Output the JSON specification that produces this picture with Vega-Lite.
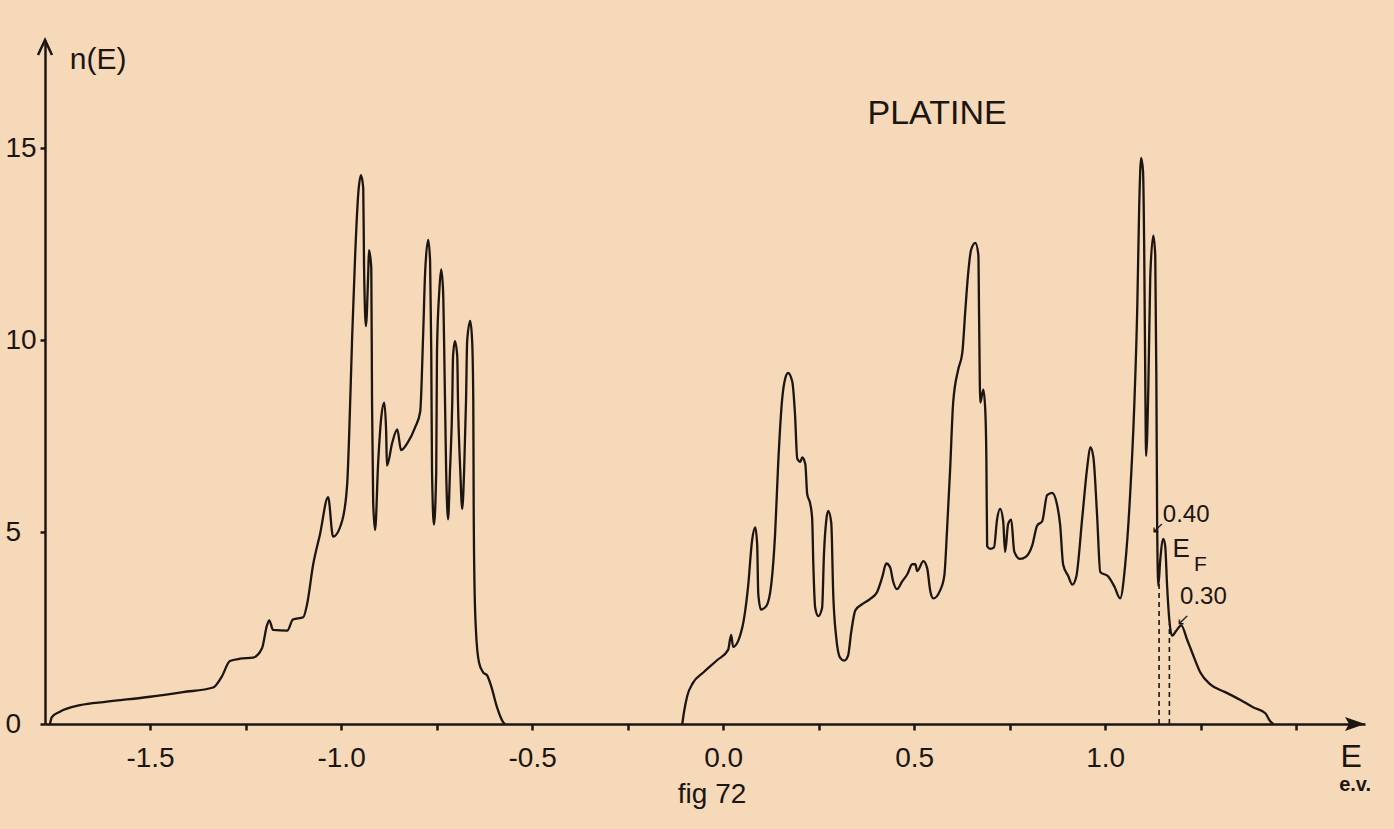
{
  "$schema": "https://vega.github.io/schema/vega-lite/v6.json",
  "width": 1320,
  "height": 684,
  "autosize": {"type": "none"},
  "padding": {"left": 45, "top": 40, "right": 29, "bottom": 105},
  "background": "#f5d9b9",
  "config": {
    "view": {"stroke": null},
    "font": "Liberation Sans",
    "axis": {
      "domainColor": "#1c1510", "domainWidth": 2.5,
      "tickColor": "#1c1510", "tickWidth": 2.5,
      "labelColor": "#1c1510", "labelFont": "Liberation Sans", "labelFontSize": 28,
      "grid": false, "title": null
    }
  },
  "datasets": {
    "dos": [
      {"E": -1.762, "n": 0, "b": "L"}, {"E": -1.757, "n": 0.18, "b": "L"}, {"E": -1.736, "n": 0.32, "b": "L"},
      {"E": -1.683, "n": 0.49, "b": "L"}, {"E": -1.613, "n": 0.58, "b": "L"}, {"E": -1.5, "n": 0.71, "b": "L"},
      {"E": -1.414, "n": 0.83, "b": "L"}, {"E": -1.335, "n": 0.95, "b": "L"}, {"E": -1.312, "n": 1.24, "b": "L"},
      {"E": -1.291, "n": 1.64, "b": "L"}, {"E": -1.264, "n": 1.7, "b": "L"}, {"E": -1.23, "n": 1.73, "b": "L"},
      {"E": -1.207, "n": 1.97, "b": "L"}, {"E": -1.194, "n": 2.57, "b": "L"}, {"E": -1.188, "n": 2.7, "b": "L"},
      {"E": -1.178, "n": 2.45, "b": "L"}, {"E": -1.141, "n": 2.43, "b": "L"}, {"E": -1.126, "n": 2.72, "b": "L"},
      {"E": -1.099, "n": 2.78, "b": "L"}, {"E": -1.089, "n": 3.12, "b": "L"}, {"E": -1.073, "n": 4.16, "b": "L"},
      {"E": -1.055, "n": 4.95, "b": "L"}, {"E": -1.034, "n": 5.91, "b": "L"}, {"E": -1.021, "n": 4.88, "b": "L"},
      {"E": -0.997, "n": 5.3, "b": "L"}, {"E": -0.984, "n": 6.26, "b": "L"}, {"E": -0.979, "n": 7.49, "b": "L"},
      {"E": -0.971, "n": 10.1, "b": "L"}, {"E": -0.963, "n": 12.26, "b": "L"}, {"E": -0.955, "n": 13.82, "b": "L"},
      {"E": -0.948, "n": 14.29, "b": "L"}, {"E": -0.942, "n": 13.95, "b": "L"}, {"E": -0.94, "n": 12.0, "b": "L"},
      {"E": -0.935, "n": 10.36, "b": "L"}, {"E": -0.929, "n": 11.74, "b": "L"}, {"E": -0.927, "n": 12.34, "b": "L"},
      {"E": -0.921, "n": 11.88, "b": "L"}, {"E": -0.919, "n": 8.36, "b": "L"}, {"E": -0.916, "n": 5.76, "b": "L"},
      {"E": -0.911, "n": 5.05, "b": "L"}, {"E": -0.903, "n": 6.8, "b": "L"}, {"E": -0.895, "n": 7.97, "b": "L"},
      {"E": -0.887, "n": 8.37, "b": "L"}, {"E": -0.882, "n": 7.59, "b": "L"}, {"E": -0.88, "n": 6.73, "b": "L"},
      {"E": -0.866, "n": 7.33, "b": "L"}, {"E": -0.853, "n": 7.67, "b": "L"}, {"E": -0.843, "n": 7.13, "b": "L"},
      {"E": -0.825, "n": 7.34, "b": "L"}, {"E": -0.806, "n": 7.73, "b": "L"}, {"E": -0.793, "n": 8.13, "b": "L"},
      {"E": -0.785, "n": 10.21, "b": "L"}, {"E": -0.78, "n": 11.77, "b": "L"}, {"E": -0.772, "n": 12.61, "b": "L"},
      {"E": -0.767, "n": 12.04, "b": "L"}, {"E": -0.764, "n": 9.7, "b": "L"}, {"E": -0.762, "n": 6.58, "b": "L"},
      {"E": -0.757, "n": 5.19, "b": "L"}, {"E": -0.751, "n": 6.57, "b": "L"}, {"E": -0.749, "n": 9.7, "b": "L"},
      {"E": -0.743, "n": 11.27, "b": "L"}, {"E": -0.738, "n": 11.84, "b": "L"}, {"E": -0.733, "n": 11.27, "b": "L"},
      {"E": -0.73, "n": 9.7, "b": "L"}, {"E": -0.725, "n": 6.58, "b": "L"}, {"E": -0.72, "n": 5.33, "b": "L"},
      {"E": -0.715, "n": 6.58, "b": "L"}, {"E": -0.709, "n": 8.4, "b": "L"}, {"E": -0.707, "n": 9.57, "b": "L"},
      {"E": -0.702, "n": 9.97, "b": "L"}, {"E": -0.696, "n": 9.58, "b": "L"}, {"E": -0.694, "n": 8.41, "b": "L"},
      {"E": -0.688, "n": 6.59, "b": "L"}, {"E": -0.683, "n": 5.6, "b": "L"}, {"E": -0.678, "n": 6.59, "b": "L"},
      {"E": -0.673, "n": 8.42, "b": "L"}, {"E": -0.67, "n": 9.98, "b": "L"}, {"E": -0.662, "n": 10.5, "b": "L"},
      {"E": -0.657, "n": 9.98, "b": "L"}, {"E": -0.654, "n": 8.42, "b": "L"}, {"E": -0.653, "n": 5.81, "b": "L"},
      {"E": -0.651, "n": 3.73, "b": "L"}, {"E": -0.647, "n": 2.43, "b": "L"}, {"E": -0.639, "n": 1.6, "b": "L"},
      {"E": -0.628, "n": 1.34, "b": "L"}, {"E": -0.618, "n": 1.27, "b": "L"}, {"E": -0.607, "n": 0.98, "b": "L"},
      {"E": -0.592, "n": 0.44, "b": "L"}, {"E": -0.576, "n": 0.05, "b": "L"}, {"E": -0.571, "n": 0, "b": "L"},

      {"E": -0.107, "n": 0, "b": "R"}, {"E": -0.102, "n": 0.34, "b": "R"}, {"E": -0.094, "n": 0.73, "b": "R"},
      {"E": -0.079, "n": 1.07, "b": "R"}, {"E": -0.052, "n": 1.34, "b": "R"}, {"E": -0.016, "n": 1.66, "b": "R"},
      {"E": 0.013, "n": 1.93, "b": "R"}, {"E": 0.021, "n": 2.32, "b": "R"}, {"E": 0.026, "n": 2.01, "b": "R"},
      {"E": 0.05, "n": 2.51, "b": "R"}, {"E": 0.065, "n": 3.55, "b": "R"}, {"E": 0.076, "n": 4.8, "b": "R"},
      {"E": 0.084, "n": 5.12, "b": "R"}, {"E": 0.089, "n": 4.68, "b": "R"}, {"E": 0.092, "n": 3.38, "b": "R"},
      {"E": 0.099, "n": 2.98, "b": "R"}, {"E": 0.113, "n": 3.07, "b": "R"}, {"E": 0.126, "n": 3.64, "b": "R"},
      {"E": 0.136, "n": 4.95, "b": "R"}, {"E": 0.144, "n": 6.77, "b": "R"}, {"E": 0.154, "n": 8.41, "b": "R"},
      {"E": 0.162, "n": 8.98, "b": "R"}, {"E": 0.17, "n": 9.14, "b": "R"}, {"E": 0.181, "n": 8.91, "b": "R"},
      {"E": 0.188, "n": 8.08, "b": "R"}, {"E": 0.194, "n": 6.91, "b": "R"}, {"E": 0.202, "n": 6.83, "b": "R"},
      {"E": 0.207, "n": 6.94, "b": "R"}, {"E": 0.215, "n": 6.77, "b": "R"}, {"E": 0.22, "n": 5.99, "b": "R"},
      {"E": 0.228, "n": 5.73, "b": "R"}, {"E": 0.233, "n": 5.35, "b": "R"}, {"E": 0.236, "n": 4.17, "b": "R"},
      {"E": 0.241, "n": 3.02, "b": "R"}, {"E": 0.249, "n": 2.81, "b": "R"}, {"E": 0.259, "n": 3.02, "b": "R"},
      {"E": 0.264, "n": 4.45, "b": "R"}, {"E": 0.27, "n": 5.31, "b": "R"}, {"E": 0.275, "n": 5.55, "b": "R"},
      {"E": 0.283, "n": 5.24, "b": "R"}, {"E": 0.288, "n": 3.42, "b": "R"}, {"E": 0.296, "n": 2.25, "b": "R"},
      {"E": 0.306, "n": 1.73, "b": "R"}, {"E": 0.317, "n": 1.65, "b": "R"}, {"E": 0.327, "n": 1.78, "b": "R"},
      {"E": 0.335, "n": 2.38, "b": "R"}, {"E": 0.346, "n": 2.96, "b": "R"}, {"E": 0.364, "n": 3.12, "b": "R"},
      {"E": 0.385, "n": 3.26, "b": "R"}, {"E": 0.403, "n": 3.44, "b": "R"}, {"E": 0.416, "n": 3.81, "b": "R"},
      {"E": 0.427, "n": 4.18, "b": "R"}, {"E": 0.437, "n": 4.08, "b": "R"}, {"E": 0.445, "n": 3.71, "b": "R"},
      {"E": 0.455, "n": 3.51, "b": "R"}, {"E": 0.469, "n": 3.72, "b": "R"}, {"E": 0.482, "n": 3.9, "b": "R"},
      {"E": 0.495, "n": 4.16, "b": "R"}, {"E": 0.503, "n": 4.16, "b": "R"}, {"E": 0.508, "n": 3.98, "b": "R"},
      {"E": 0.524, "n": 4.24, "b": "R"}, {"E": 0.534, "n": 4.06, "b": "R"}, {"E": 0.542, "n": 3.47, "b": "R"},
      {"E": 0.55, "n": 3.27, "b": "R"}, {"E": 0.568, "n": 3.48, "b": "R"}, {"E": 0.579, "n": 3.87, "b": "R"},
      {"E": 0.586, "n": 5.05, "b": "R"}, {"E": 0.594, "n": 6.61, "b": "R"}, {"E": 0.602, "n": 8.36, "b": "R"},
      {"E": 0.615, "n": 9.22, "b": "R"}, {"E": 0.626, "n": 9.67, "b": "R"}, {"E": 0.634, "n": 10.79, "b": "R"},
      {"E": 0.641, "n": 11.7, "b": "R"}, {"E": 0.649, "n": 12.35, "b": "R"}, {"E": 0.66, "n": 12.53, "b": "R"},
      {"E": 0.668, "n": 12.22, "b": "R"}, {"E": 0.67, "n": 10.53, "b": "R"}, {"E": 0.673, "n": 8.37, "b": "R"},
      {"E": 0.681, "n": 8.71, "b": "R"}, {"E": 0.686, "n": 8.19, "b": "R"}, {"E": 0.689, "n": 6.89, "b": "R"},
      {"E": 0.691, "n": 4.63, "b": "R"}, {"E": 0.699, "n": 4.56, "b": "R"}, {"E": 0.709, "n": 4.6, "b": "R"},
      {"E": 0.717, "n": 5.33, "b": "R"}, {"E": 0.725, "n": 5.6, "b": "R"}, {"E": 0.733, "n": 5.28, "b": "R"},
      {"E": 0.738, "n": 4.48, "b": "R"}, {"E": 0.746, "n": 5.21, "b": "R"}, {"E": 0.754, "n": 5.32, "b": "R"},
      {"E": 0.762, "n": 4.49, "b": "R"}, {"E": 0.777, "n": 4.3, "b": "R"}, {"E": 0.793, "n": 4.36, "b": "R"},
      {"E": 0.809, "n": 4.65, "b": "R"}, {"E": 0.822, "n": 5.17, "b": "R"}, {"E": 0.835, "n": 5.28, "b": "R"},
      {"E": 0.848, "n": 5.96, "b": "R"}, {"E": 0.861, "n": 6.02, "b": "R"}, {"E": 0.874, "n": 5.71, "b": "R"},
      {"E": 0.882, "n": 5.19, "b": "R"}, {"E": 0.89, "n": 4.15, "b": "R"}, {"E": 0.903, "n": 3.86, "b": "R"},
      {"E": 0.914, "n": 3.63, "b": "R"}, {"E": 0.924, "n": 3.82, "b": "R"}, {"E": 0.94, "n": 5.38, "b": "R"},
      {"E": 0.953, "n": 6.69, "b": "R"}, {"E": 0.961, "n": 7.21, "b": "R"}, {"E": 0.969, "n": 6.95, "b": "R"},
      {"E": 0.979, "n": 5.39, "b": "R"}, {"E": 0.987, "n": 3.96, "b": "R"}, {"E": 1.008, "n": 3.84, "b": "R"},
      {"E": 1.024, "n": 3.58, "b": "R"}, {"E": 1.039, "n": 3.27, "b": "R"}, {"E": 1.052, "n": 4.11, "b": "R"},
      {"E": 1.065, "n": 5.93, "b": "R"}, {"E": 1.076, "n": 8.27, "b": "R"}, {"E": 1.084, "n": 10.88, "b": "R"},
      {"E": 1.089, "n": 13.49, "b": "R"}, {"E": 1.094, "n": 14.74, "b": "R"}, {"E": 1.099, "n": 14.4, "b": "R"},
      {"E": 1.102, "n": 12.45, "b": "R"}, {"E": 1.105, "n": 8.8, "b": "R"}, {"E": 1.107, "n": 6.98, "b": "R"},
      {"E": 1.113, "n": 8.81, "b": "R"}, {"E": 1.118, "n": 11.67, "b": "R"}, {"E": 1.126, "n": 12.72, "b": "R"},
      {"E": 1.131, "n": 12.2, "b": "R"}, {"E": 1.134, "n": 8.81, "b": "R"}, {"E": 1.136, "n": 5.17, "b": "R"},
      {"E": 1.139, "n": 3.6, "b": "R"}, {"E": 1.144, "n": 4.26, "b": "R"}, {"E": 1.152, "n": 4.82, "b": "R"},
      {"E": 1.157, "n": 4.64, "b": "R"}, {"E": 1.162, "n": 3.6, "b": "R"}, {"E": 1.168, "n": 2.69, "b": "R"},
      {"E": 1.175, "n": 2.3, "b": "R"}, {"E": 1.186, "n": 2.43, "b": "R"}, {"E": 1.199, "n": 2.57, "b": "R"},
      {"E": 1.215, "n": 2.18, "b": "R"}, {"E": 1.228, "n": 1.85, "b": "R"}, {"E": 1.249, "n": 1.34, "b": "R"},
      {"E": 1.275, "n": 1.03, "b": "R"}, {"E": 1.314, "n": 0.83, "b": "R"}, {"E": 1.353, "n": 0.63, "b": "R"},
      {"E": 1.388, "n": 0.43, "b": "R"}, {"E": 1.419, "n": 0.28, "b": "R"}, {"E": 1.432, "n": 0.07, "b": "R"},
      {"E": 1.44, "n": 0, "b": "R"}
    ]
  },
  "encoding": {
    "x": {
      "field": "E", "type": "quantitative",
      "scale": {"domain": [-1.775, 1.68], "nice": false, "zero": false},
      "axis": {
        "values": [-1.5, -1.25, -1.0, -0.75, -0.5, -0.25, 0, 0.25, 0.5, 0.75, 1.0, 1.25, 1.5],
        "labelExpr": "(datum.value % 0.5 == 0 && datum.value < 1.4) ? replace(format(datum.value, '.1f'), '\u2212', '-') : ''",
        "tickSize": 6, "labelPadding": 14, "labelFlush": false, "labelOverlap": false
      }
    },
    "y": {
      "field": "n", "type": "quantitative",
      "scale": {"domain": [0, 17.8125], "nice": false, "zero": false},
      "axis": {
        "values": [0, 5, 10, 15], "format": "d",
        "tickSize": 5, "labelPadding": 35, "labelAlign": "left", "labelBaseline": "middle"
      }
    }
  },
  "layer": [
    {
      "data": {"name": "dos"},
      "mark": {"type": "line", "interpolate": "monotone", "color": "#1c1510", "strokeWidth": 2.3},
      "encoding": {"detail": {"field": "b"}}
    },
    {
      "data": {"values": [{"E": 1.141, "n": 0, "n2": 4.0}, {"E": 1.168, "n": 0, "n2": 2.6}]},
      "mark": {"type": "rule", "color": "#1c1510", "strokeWidth": 1.6, "strokeDash": [5, 4]},
      "encoding": {"y2": {"field": "n2"}}
    },
    {
      "data": {"values": [{"E": 1.68, "n": 0}]},
      "mark": {"type": "point", "shape": "M 0 0 L -2 -0.7 L -1.6 0 L -2 0.7 Z", "size": 400, "filled": true, "color": "#1c1510", "opacity": 1},
      "encoding": {}
    },
    {
      "data": {"values": [{"E": -1.775, "n": 17.8125}]},
      "mark": {"type": "point", "shape": "M -0.7 1.5 L 0 0 L 0.7 1.5", "size": 400, "filled": false, "color": "#1c1510", "strokeWidth": 2.5, "opacity": 1},
      "encoding": {}
    },
    {
      "data": {"values": [{"E": 0.56, "n": 15.89, "t": "PLATINE"}]},
      "mark": {"type": "text", "font": "Liberation Sans", "fontSize": 34, "color": "#1c1510", "align": "center", "baseline": "middle"},
      "encoding": {"text": {"field": "t"}}
    },
    {
      "data": {"values": [{"E": -1.636, "n": 17.3, "t": "n(E)"}]},
      "mark": {"type": "text", "font": "Liberation Sans", "fontSize": 30, "color": "#1c1510", "align": "center", "baseline": "middle"},
      "encoding": {"text": {"field": "t"}}
    },
    {
      "data": {"values": [{"E": -0.029, "n": -1.85, "t": "fig 72"}]},
      "mark": {"type": "text", "font": "Liberation Sans", "fontSize": 28, "color": "#1c1510", "align": "center", "baseline": "middle"},
      "encoding": {"text": {"field": "t"}}
    },
    {
      "data": {"values": [{"E": 1.644, "n": -0.85, "t": "E"}]},
      "mark": {"type": "text", "font": "Liberation Sans", "fontSize": 32, "color": "#1c1510", "align": "center", "baseline": "middle"},
      "encoding": {"text": {"field": "t"}}
    },
    {
      "data": {"values": [{"E": 1.654, "n": -1.6, "t": "e.v."}]},
      "mark": {"type": "text", "font": "Liberation Sans", "fontSize": 20, "fontWeight": "bold", "color": "#1c1510", "align": "center", "baseline": "middle"},
      "encoding": {"text": {"field": "t"}}
    },
    {
      "data": {"values": [{"E": 1.212, "n": 5.44, "t": "0.40"}, {"E": 1.257, "n": 3.31, "t": "0.30"}]},
      "mark": {"type": "text", "font": "Liberation Sans", "fontSize": 24, "color": "#1c1510", "align": "center", "baseline": "middle"},
      "encoding": {"text": {"field": "t"}}
    },
    {
      "data": {"values": [{"E": 1.199, "n": 4.55, "t": "E"}]},
      "mark": {"type": "text", "font": "Liberation Sans", "fontSize": 26, "color": "#1c1510", "align": "center", "baseline": "middle"},
      "encoding": {"text": {"field": "t"}}
    },
    {
      "data": {"values": [{"E": 1.249, "n": 4.15, "t": "F"}]},
      "mark": {"type": "text", "font": "Liberation Sans", "fontSize": 21, "color": "#1c1510", "align": "center", "baseline": "middle"},
      "encoding": {"text": {"field": "t"}}
    },
    {
      "data": {"values": [{"E": 1.138, "n": 5.1, "t": "\u2199"}, {"E": 1.204, "n": 2.72, "t": "\u2199"}]},
      "mark": {"type": "text", "font": "DejaVu Sans", "fontSize": 16, "color": "#1c1510", "align": "center", "baseline": "middle"},
      "encoding": {"text": {"field": "t"}}
    }
  ]
}
